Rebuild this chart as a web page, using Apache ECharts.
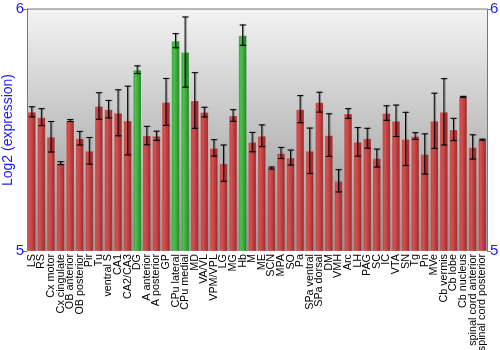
<!DOCTYPE html>
<html>
<head>
<meta charset="utf-8">
<script src="https://cdn.jsdelivr.net/npm/echarts@6/dist/echarts.min.js"></script>
<style>
  html, body { margin: 0; padding: 0; background: #fff; }
  #chart { width: 500px; height: 350px; }
</style>
</head>
<body>
<div id="chart"></div>
<script>
// Brain regions along the x axis
const regions = [
  'LS', 'RS', 'Cx motor', 'Cx cingulate', 'OB anterior', 'OB posterior', 'Pir', 'Tu',
  'ventral S', 'CA1', 'CA2/CA3', 'DG', 'A anterior', 'A posterior', 'GP', 'CPu lateral',
  'CPu medial', 'MD', 'VA/VL', 'VPM/VPL', 'LG', 'MG', 'Hb', 'M', 'ME', 'SCN', 'MPA', 'SO',
  'Pa', 'SPa ventral', 'SPa dorsal', 'DM', 'VMH', 'Arc', 'LH', 'PAG', 'SC', 'IC', 'VTA',
  'SN', 'Tg', 'Pn', 'MVe', 'Cb vermis', 'Cb lobe', 'Cb nucleus', 'spinal cord anterior',
  'spinal cord posterior'
];

// Mean log2 expression per region
const expression = [
  5.575, 5.553, 5.472, 5.363, 5.539, 5.466, 5.414, 5.599,
  5.586, 5.571, 5.539, 5.749, 5.477, 5.476, 5.616, 5.869,
  5.822, 5.622, 5.574, 5.426, 5.363, 5.560, 5.892, 5.450, 5.476, 5.343, 5.405, 5.386,
  5.586, 5.414, 5.615, 5.479, 5.290, 5.568, 5.451, 5.466, 5.384, 5.570, 5.538,
  5.463, 5.475, 5.401, 5.538, 5.575, 5.502, 5.637, 5.430,
  5.460
];

// Spread (+/-) drawn as error bars
const spread = [
  0.021, 0.035, 0.063, 0.006, 0.004, 0.028, 0.055, 0.055,
  0.036, 0.095, 0.142, 0.016, 0.038, 0.019, 0.097, 0.029,
  0.145, 0.115, 0.020, 0.034, 0.075, 0.024, 0.042, 0.040, 0.045, 0.004, 0.023, 0.031,
  0.056, 0.094, 0.041, 0.088, 0.046, 0.020, 0.059, 0.041, 0.037, 0.030, 0.065,
  0.110, 0.014, 0.083, 0.114, 0.137, 0.046, 0.002, 0.050,
  0.002
];

// Regions highlighted in green
const highlighted = ['DG', 'CPu lateral', 'CPu medial', 'Hb'];

// Axis range and tick labels
const yMin = 5;
const yMax = 6;
const yTicks = [5, 6];

const FONT = '"Liberation Sans", Arial, sans-serif';

const redFill = new echarts.graphic.LinearGradient(0, 0, 1, 0, [
  { offset: 0, color: '#b43a3a' },
  { offset: 0.3, color: '#d25252' },
  { offset: 0.75, color: '#b53535' },
  { offset: 1, color: '#7e1f1f' }
]);
const greenFill = new echarts.graphic.LinearGradient(0, 0, 1, 0, [
  { offset: 0, color: '#2f952f' },
  { offset: 0.3, color: '#4fc04f' },
  { offset: 0.75, color: '#2f9e2f' },
  { offset: 1, color: '#1a6a1a' }
]);

const barData = regions.map((name, i) => ({
  value: expression[i],
  itemStyle: { color: highlighted.includes(name) ? greenFill : redFill }
}));

const errData = regions.map((name, i) => [i, expression[i] - spread[i], expression[i] + spread[i]]);

const yAxisCommon = {
  type: 'value',
  min: yMin,
  max: yMax,
  interval: 1,
  axisLine: { show: true, lineStyle: { color: '#777', width: 1 } },
  axisTick: { show: true, length: 4, lineStyle: { color: '#777' } },
  splitLine: { show: false },
  axisLabel: {
    color: '#1a1aff',
    fontSize: 15,
    fontFamily: FONT,
    margin: 3,
    formatter: v => (yTicks.includes(v) ? String(v) : '')
  }
};

const chart = echarts.init(document.getElementById('chart'), null, { renderer: 'canvas' });

chart.setOption({
  animation: false,
  grid: {
    left: 27, right: 13, top: 9, bottom: 99,
    outerBoundsMode: 'none',
    containLabel: false,
    show: true,
    borderWidth: 0,
    backgroundColor: new echarts.graphic.LinearGradient(0, 0, 0, 1, [
      { offset: 0, color: '#f3f3f3' },
      { offset: 1, color: '#8f8f8f' }
    ])
  },
  graphic: [{
    type: 'line',
    shape: { x1: 27, y1: 9, x2: 487, y2: 9 },
    style: { stroke: '#777', lineWidth: 1 }
  }],
  xAxis: {
    type: 'category',
    data: regions,
    axisLine: { show: false },
    axisTick: { show: false },
    axisLabel: {
      rotate: 90,
      interval: 0,
      color: '#000',
      fontSize: 10.8,
      fontFamily: FONT,
      margin: 3
    }
  },
  yAxis: [
    Object.assign({}, yAxisCommon, {
      position: 'left',
      name: 'Log2 (expression)',
      nameLocation: 'middle',
      nameGap: 12,
      nameRotate: 90,
      nameMoveOverlap: false,
      nameTextStyle: { color: '#1a1aff', fontSize: 14, fontFamily: FONT }
    }),
    Object.assign({}, yAxisCommon, { position: 'right' })
  ],
  series: [
    {
      type: 'bar',
      data: barData,
      barWidth: '90%',
      itemStyle: { borderColor: 'rgba(255,255,255,0.18)', borderWidth: 1 }
    },
    {
      type: 'custom',
      data: errData,
      z: 10,
      renderItem: function (params, api) {
        const x = api.value(0);
        const lo = api.coord([x, api.value(1)]);
        const hi = api.coord([x, api.value(2)]);
        const cap = 3;
        const style = {
          stroke: '#000',
          lineWidth: 1,
          shadowColor: 'rgba(0,0,0,0.45)',
          shadowOffsetX: 1,
          shadowBlur: 1
        };
        return {
          type: 'group',
          children: [
            { type: 'line', shape: { x1: hi[0], y1: hi[1], x2: lo[0], y2: lo[1] }, style: style },
            { type: 'line', shape: { x1: hi[0] - cap, y1: hi[1], x2: hi[0] + cap, y2: hi[1] }, style: style },
            { type: 'line', shape: { x1: lo[0] - cap, y1: lo[1], x2: lo[0] + cap, y2: lo[1] }, style: style }
          ]
        };
      }
    }
  ]
});
</script>
</body>
</html>
